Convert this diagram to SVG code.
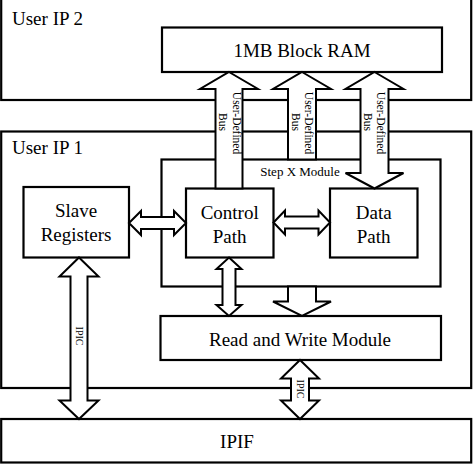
<svg xmlns="http://www.w3.org/2000/svg" width="473" height="464" viewBox="0 0 473 464" font-family="Liberation Serif, serif">
<style>
.box{fill:#fff;stroke:#000;stroke-width:2.2}
.arr{fill:#fff;stroke:#000;stroke-width:2;stroke-linejoin:miter}
.lbl{font-family:Liberation Serif, serif;font-size:19px;fill:#000}
.c{text-anchor:middle}
.bus{font-family:Liberation Serif, serif;font-size:11.5px;fill:#000;text-anchor:middle}
.ipic{font-family:Liberation Serif, serif;font-size:10px;fill:#000;text-anchor:middle}
.step{font-family:Liberation Serif, serif;font-size:13px;fill:#000;text-anchor:middle}
</style>
<rect width="473" height="464" fill="#fff"/>
<g id="user-ip-2"><rect class="box" x="1.2" y="-3" width="470" height="103"/><text class="lbl" x="12" y="25">User IP 2</text></g>
<g id="user-ip-1"><rect class="box" x="1.2" y="131.5" width="470" height="256.5"/><text class="lbl" x="12" y="154">User IP 1</text></g>
<g id="ipif"><rect class="box" x="1.2" y="419" width="470" height="43.5"/><text class="lbl c" x="237" y="448">IPIF</text></g>
<g id="block-ram"><rect class="box" x="162" y="27.5" width="280" height="44.5"/><text class="lbl c" x="302" y="57">1MB Block RAM</text></g>
<g id="step-x"><rect class="box" x="161.5" y="159.5" width="279" height="127"/><text class="step" x="300" y="176">Step X Module</text></g>
<g id="slave-registers"><rect class="box" x="23.5" y="187" width="105.5" height="70.5"/><text class="lbl c" x="76" y="217">Slave</text><text class="lbl c" x="76" y="240.5">Registers</text></g>
<g id="control-path"><rect class="box" x="186" y="188.5" width="87.5" height="69"/><text class="lbl c" x="229.7" y="219">Control</text><text class="lbl c" x="229.7" y="242.5">Path</text></g>
<g id="data-path"><rect class="box" x="330" y="188.5" width="87.5" height="69"/><text class="lbl c" x="373.7" y="219">Data</text><text class="lbl c" x="373.7" y="242.5">Path</text></g>
<g id="read-write"><rect class="box" x="160.5" y="316" width="280.5" height="44"/><text class="lbl c" x="300" y="345.5">Read and Write Module</text></g>
<g id="connectors">
<polygon class="arr" points="229,72 258,89 242.5,89 242.5,188.5 215.5,188.5 215.5,89 200,89"/>
<polygon class="arr" points="302,72 331,89 316,89 316,159.5 288,159.5 288,89 273,89"/>
<polygon class="arr" points="374.5,72 403.5,89 388.5,89 388.5,173 403.5,173 374.5,188.5 345.5,173 360.5,173 360.5,89 345.5,89"/>
<polygon class="arr" points="129,223 141,211 141,217 174,217 174,211 186,223 174,235 174,229 141,229 141,235"/>
<polygon class="arr" points="273.5,222.5 285,210.5 285,216.5 318.5,216.5 318.5,210.5 330,222.5 318.5,234.5 318.5,228.5 285,228.5 285,234.5"/>
<polygon class="arr" points="229,257.5 241.5,269 235.5,269 235.5,305 241.5,305 229,316 216.5,305 222.5,305 222.5,269 216.5,269"/>
<polygon class="arr" points="288,286.5 316,286.5 316,301.5 331,301.5 302,316 273,301.5 288,301.5"/>
<polygon class="arr" points="79,257.5 98.5,276.5 87.5,276.5 87.5,400.5 98.5,400.5 79,419 59.5,400.5 70.5,400.5 70.5,276.5 59.5,276.5"/>
<polygon class="arr" points="300,360 319,378.5 309,378.5 309,400.5 319,400.5 300,419 281,400.5 291,400.5 291,378.5 281,378.5"/>
<text class="bus" transform="translate(232.5,123) rotate(90)">User-Defined</text>
<text class="bus" transform="translate(218.5,122) rotate(90)">Bus</text>
<text class="bus" transform="translate(305,123) rotate(90)">User-Defined</text>
<text class="bus" transform="translate(291.5,122) rotate(90)">Bus</text>
<text class="bus" transform="translate(377,123) rotate(90)">User-Defined</text>
<text class="bus" transform="translate(363.5,122) rotate(90)">Bus</text>
<text class="ipic" transform="translate(76,336) rotate(90)">IPIC</text>
<text class="ipic" transform="translate(296.5,389) rotate(90)">IPIC</text>
</g>
</svg>
